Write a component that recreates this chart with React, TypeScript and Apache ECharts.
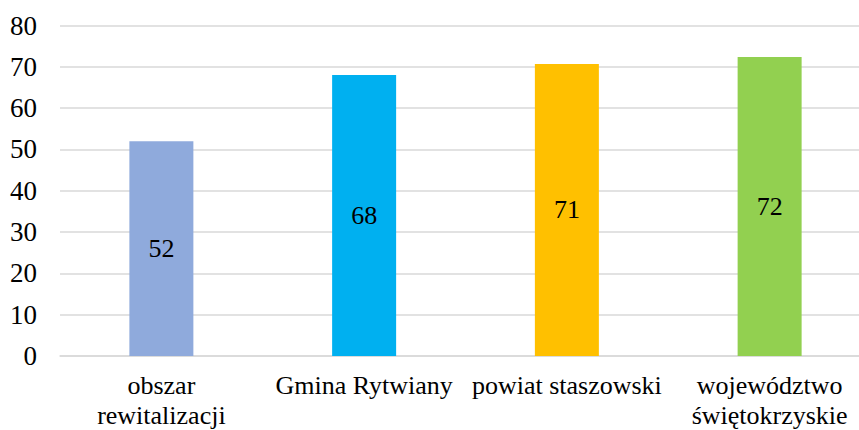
import React, { useEffect, useRef } from "react";
import * as echarts from "echarts";

const categories = ["obszar\nrewitalizacji", "Gmina Rytwiany", "powiat staszowski", "województwo\nświętokrzyskie"];
const values = [52, 68, 70.7, 72.4];
const colors = ["#8FAADC", "#00B0F0", "#FFC000", "#92D050"];
const yTicks = { min: 0, max: 80, interval: 10 };

export default function App() {
  const ref = useRef<HTMLDivElement>(null);
  useEffect(() => {
    if (!ref.current) return;
    const chart = echarts.init(ref.current, null, { renderer: "svg" });
    const font = "Times New Roman";
    const ts = { fontFamily: font, fontStyle: "normal", fontWeight: "normal" };
    chart.setOption({
      animation: false,
      textStyle: ts,
      grid: { left: 60, top: 25.5, bottom: 74, width: 811, containLabel: false },
      xAxis: {
        type: "category",
        data: categories,
        axisLine: { lineStyle: { color: "#D9D9D9", width: 1.5 } },
        axisTick: { show: false },
        axisLabel: {
          ...ts,
          color: "#000",
          fontSize: 26,
          lineHeight: 30,
          margin: 14,
          interval: 0,
        },
      },
      yAxis: {
        type: "value",
        min: yTicks.min,
        max: yTicks.max,
        interval: yTicks.interval,
        axisLine: { show: false },
        axisTick: { show: false },
        splitLine: { lineStyle: { color: "#D9D9D9", width: 1.5 } },
        axisLabel: { ...ts, color: "#000", fontSize: 27, margin: 23 },
      },
      series: [
        {
          type: "bar",
          data: values.map((v, i) => ({ value: v, itemStyle: { color: colors[i] } })),
          barWidth: 64,
          label: {
            ...ts,
            show: true,
            position: "inside",
            color: "#000",
            fontSize: 26,
            formatter: (p: any) => String(Math.round(p.value)),
          },
        },
      ],
    });
    return () => chart.dispose();
  }, []);
  return (
    <div style={{ position: "absolute", left: 0, top: 0, width: 859, height: 430, overflow: "hidden" }}>
      <div ref={ref} style={{ width: 900, height: 430 }} />
    </div>
  );
}
